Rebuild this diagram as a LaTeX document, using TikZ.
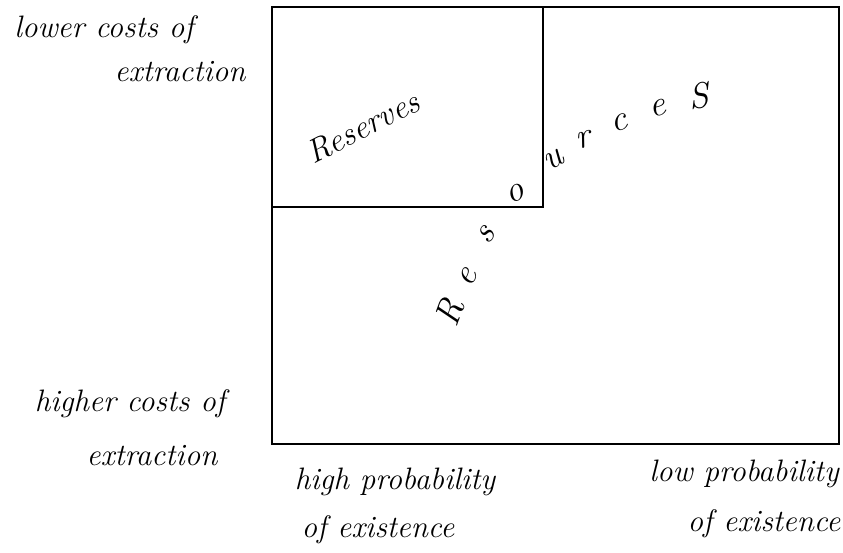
\documentclass[tikz,border=0pt]{standalone}
\usepackage{tikz}
\usetikzlibrary{positioning}
\tikzstyle{region} = [rectangle, draw, line width=1.5pt, anchor=north west, inner sep=0pt]
\tikzstyle{hand} = [font=\fontsize{31}{33}\selectfont\itshape, inner sep=0pt]
\tikzstyle{letter} = [font=\fontsize{36}{36}\selectfont\itshape, inner sep=0pt]

\begin{document}
\begin{tikzpicture}[x=1pt, y=-1pt]
    \useasboundingbox (0, 0) rectangle (843, 552);

    % boxes
    \node[region, minimum width=567pt, minimum height=437pt] at (271, 6) (resources) {};
    \node[region, minimum width=271pt, minimum height=200pt] at (271, 6) (reserves) {};

    % axis labels
    \node[hand] at (104, 30) (lowcost) {lower costs of};
    \node[hand] at (180, 72) (lowcostb) {extraction};
    \node[hand] at (130, 404) (highcost) {higher costs of};
    \node[hand] at (152, 456) (highcostb) {extraction};
    \node[hand] at (395, 482) (highprob) {high probability};
    \node[hand] at (378, 530) (highprobb) {of existence};
    \node[hand] at (744, 474) (lowprob) {low probability};
    \node[hand] at (764, 524) (lowprobb) {of existence};

    % box texts
    \node[hand, font=\fontsize{33}{33}\selectfont\itshape, rotate=27] at (363, 127) (reservestext) {Reserves};

    \node[letter, rotate=70] at (450, 312) (r1) {R};
    \node[letter, rotate=60] at (468, 278) (r2) {e};
    \node[letter, rotate=55] at (486, 235) (r3) {s};
    \node[letter, rotate=25] at (515, 194) (r4) {o};
    \node[letter, rotate=30] at (554, 160) (r5) {u};
    \node[letter, rotate=15] at (584, 140) (r6) {r};
    \node[letter, rotate=15] at (619, 123) (r7) {c};
    \node[letter, rotate=12] at (658, 108) (r8) {e};
    \node[letter, rotate=8] at (699, 96) (r9) {S};

\end{tikzpicture}
\end{document}
